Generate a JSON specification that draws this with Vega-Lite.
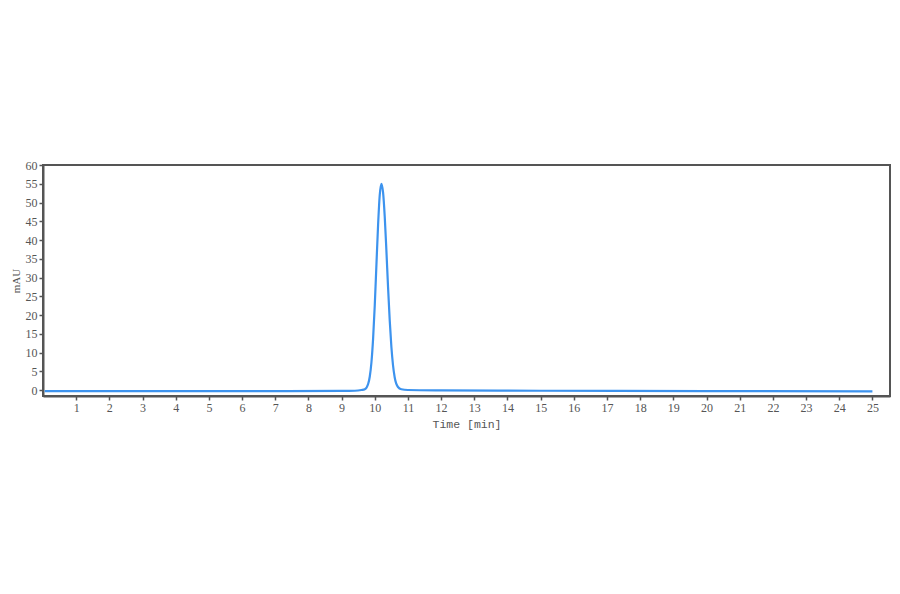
{
  "$schema": "https://vega.github.io/schema/vega-lite/v6.json",
  "width": 847,
  "height": 231,
  "autosize": "none",
  "padding": {"left": 43, "top": 165, "right": 10, "bottom": 198},
  "background": "white",
  "config": {
    "view": {"stroke": "#555555", "strokeWidth": 2},
    "axis": {
      "labelFont": "Liberation Serif",
      "titleFont": "Liberation Serif",
      "labelFontSize": 12,
      "titleFontSize": 12,
      "labelColor": "#555555",
      "titleColor": "#555555",
      "titleFontWeight": "normal",
      "domainColor": "#555555",
      "domainWidth": 2,
      "tickColor": "#555555",
      "tickWidth": 1.5,
      "tickSize": 4,
      "grid": false
    }
  },
  "data": {
    "values": [
      {"t": 0.05, "v": -0.3},
      {"t": 3, "v": -0.3},
      {"t": 6, "v": -0.3},
      {"t": 9.0, "v": -0.25},
      {"t": 9.4, "v": -0.2},
      {"t": 9.6, "v": 0.0},
      {"t": 9.7, "v": 0.2},
      {"t": 9.8, "v": 1.6},
      {"t": 9.85, "v": 3.6},
      {"t": 9.9, "v": 7.4},
      {"t": 9.95, "v": 13.7},
      {"t": 10.0, "v": 22.6},
      {"t": 10.05, "v": 33.4},
      {"t": 10.1, "v": 44.0},
      {"t": 10.15, "v": 52.0},
      {"t": 10.2, "v": 55.0},
      {"t": 10.25, "v": 52.7},
      {"t": 10.3, "v": 46.3},
      {"t": 10.35, "v": 37.3},
      {"t": 10.4, "v": 27.5},
      {"t": 10.45, "v": 18.7},
      {"t": 10.5, "v": 11.6},
      {"t": 10.55, "v": 6.6},
      {"t": 10.6, "v": 3.4},
      {"t": 10.7, "v": 0.8},
      {"t": 10.8, "v": 0.2},
      {"t": 11.0, "v": 0.0},
      {"t": 12, "v": -0.1},
      {"t": 15, "v": -0.2},
      {"t": 20, "v": -0.3},
      {"t": 25, "v": -0.35}
    ]
  },
  "mark": {"type": "line", "color": "#3d93ee", "strokeWidth": 2.2, "interpolate": "monotone", "clip": true},
  "encoding": {
    "x": {
      "field": "t",
      "type": "quantitative",
      "title": "Time [min]",
      "scale": {"domain": [0, 25.53], "nice": false, "zero": false},
      "axis": {
        "values": [1, 2, 3, 4, 5, 6, 7, 8, 9, 10, 11, 12, 13, 14, 15, 16, 17, 18, 19, 20, 21, 22, 23, 24, 25],
        "labelPadding": 2,
        "titlePadding": 5,
        "titleFont": "Liberation Mono",
        "titleFontSize": 11.5
      }
    },
    "y": {
      "field": "v",
      "type": "quantitative",
      "title": "mAU",
      "scale": {"domain": [-1.6, 60], "nice": false, "zero": false},
      "axis": {
        "values": [0, 5, 10, 15, 20, 25, 30, 35, 40, 45, 50, 55, 60],
        "labelPadding": 2,
        "titlePadding": 4,
        "titleFontSize": 11
      }
    }
  }
}
